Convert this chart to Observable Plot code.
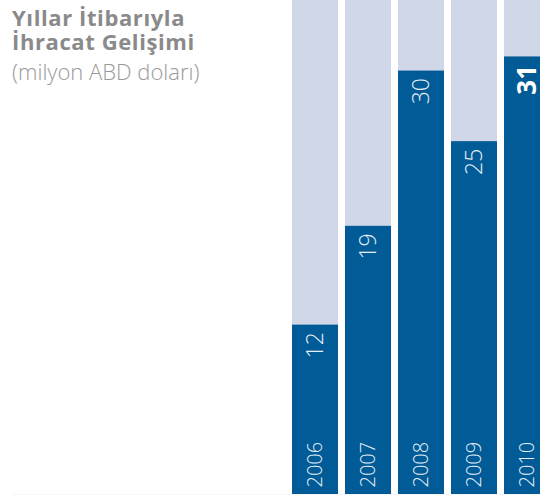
<!DOCTYPE html>
<html>
<head>
<meta charset="utf-8">
<script src="https://cdn.jsdelivr.net/npm/d3@7"></script>
<script src="https://cdn.jsdelivr.net/npm/@observablehq/plot@0.6"></script>
<style>
  html, body { margin: 0; padding: 0; background: #fff; overflow: hidden; }
  #wrap { position: relative; width: 540px; height: 495px; overflow: hidden; }
  #title { position: absolute; left: 12px; top: 5px; font-family: "Open Sans", sans-serif; color: #8a8a8a; z-index: 2; }
  #title .t { font-size: 22px; font-weight: 700; line-height: 24px; letter-spacing: 0.6px; }
  #title .s { font-size: 22px; font-weight: 300; line-height: 24px; margin-top: 6px; color: #999; }
  #chart svg { overflow: hidden !important; display: block; }
</style>
</head>
<body>
<div id="wrap">
  <div id="title">
    <div class="t">Yıllar İtibarıyla</div>
    <div class="t">İhracat Gelişimi</div>
    <div class="s">(milyon ABD doları)</div>
  </div>
  <div id="chart"></div>
</div>
<script>
const years = ["2006", "2007", "2008", "2009", "2010"];
const values = [12, 19, 30, 25, 31];
const highlightYear = "2010";
const scaleMax = 35;

const data = years.map((year, i) => ({year, value: values[i]}));
const normal = data.filter(d => d.year !== highlightYear);
const highlight = data.filter(d => d.year === highlightYear);

const chart = Plot.plot({
  width: 540,
  height: 495,
  marginTop: 0,
  marginBottom: 1,
  marginLeft: 12,
  marginRight: 0,
  style: {background: "transparent", fontFamily: "Open Sans, sans-serif"},
  x: {type: "band", domain: years, range: [292, 550], paddingInner: 7 / 53, paddingOuter: 0, axis: null},
  y: {domain: [0, scaleMax], range: [494, 0], axis: null},
  marks: [
    Plot.ruleY([0], {stroke: "#eeeeee", strokeWidth: 1, dy: 0.5}),
    Plot.barY(years, {x: d => d, y: () => scaleMax, fill: "#d0d7e8"}),
    Plot.barY(data, {x: "year", y: "value", fill: "#005b96"}),
    Plot.text(normal, {x: "year", y: "value", text: d => String(d.value), rotate: -90, textAnchor: "end", dy: 7, fill: "#e8eef6", fontSize: 23, fontWeight: 300}),
    Plot.text(highlight, {x: "year", y: "value", text: d => String(d.value), rotate: -90, textAnchor: "end", dy: 8, fill: "#ffffff", fontSize: 26, fontWeight: 700}),
    Plot.text(data, {x: "year", y: () => 0, text: "year", rotate: -90, textAnchor: "start", dy: -7, fill: "#e8eef6", fontSize: 20, fontWeight: 300})
  ]
});
document.getElementById("chart").appendChild(chart);
</script>
</body>
</html>
